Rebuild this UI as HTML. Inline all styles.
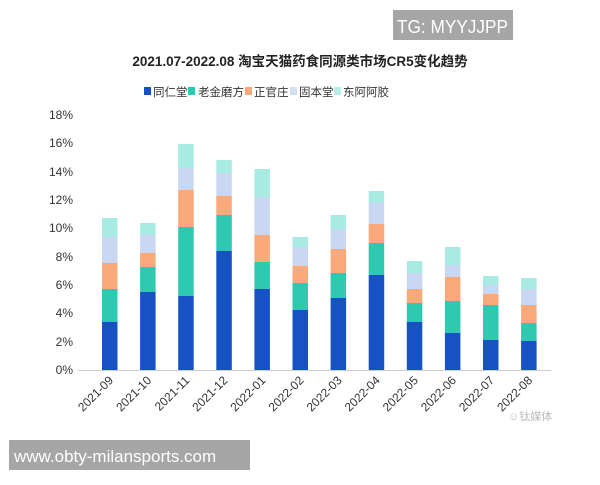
<!DOCTYPE html>
<html><head><meta charset="utf-8"><style>
body{margin:0;width:600px;height:480px;background:#fff;overflow:hidden;font-family:"Liberation Sans","Noto Sans CJK SC",sans-serif}
</style></head><body>
<svg width="600" height="480" xmlns="http://www.w3.org/2000/svg" font-family="Liberation Sans, Noto Sans CJK SC, sans-serif">
<rect x="393" y="10" width="120" height="30" fill="#a6a6a6"/>
<text x="397" y="33" font-size="18" fill="#fff" textLength="111" lengthAdjust="spacingAndGlyphs">TG: MYYJJPP</text>
<text x="300" y="66" font-size="13.5" font-weight="bold" text-anchor="middle" fill="#222">2021.07-2022.08 淘宝天猫药食同源类市场CR5变化趋势</text>
<g font-size="11.5" fill="#333">
<rect x="144" y="87" width="7" height="8" fill="#1652c4"/><text x="153" y="96">同仁堂</text>
<rect x="188" y="87" width="7" height="8" fill="#2ec9b0"/><text x="198" y="96">老金磨方</text>
<rect x="245" y="87" width="7" height="8" fill="#f9a97a"/><text x="254" y="96">正官庄</text>
<rect x="290" y="87" width="7" height="8" fill="#d5dff2"/><text x="299" y="96">固本堂</text>
<rect x="334" y="87" width="7" height="8" fill="#b5efe6"/><text x="343" y="96">东阿阿胶</text>
</g>
<g font-size="12" fill="#333" text-anchor="end">
<text x="73" y="374">0%</text><text x="73" y="346">2%</text><text x="73" y="317">4%</text><text x="73" y="289">6%</text><text x="73" y="261">8%</text><text x="73" y="232">10%</text><text x="73" y="204">12%</text><text x="73" y="176">14%</text><text x="73" y="147">16%</text><text x="73" y="119">18%</text>
</g>
<line x1="78" y1="370.5" x2="551" y2="370.5" stroke="#ccc"/>
<g fill="#1652c4">
<rect x="102" y="322" width="15.5" height="48"/><rect x="140.1" y="292" width="15.5" height="78"/><rect x="178.2" y="296" width="15.5" height="74"/><rect x="216.3" y="251" width="15.5" height="119"/><rect x="254.4" y="289" width="15.5" height="81"/><rect x="292.5" y="310" width="15.5" height="60"/><rect x="330.6" y="298" width="15.5" height="72"/><rect x="368.7" y="275" width="15.5" height="95"/><rect x="406.8" y="322" width="15.5" height="48"/><rect x="444.9" y="333" width="15.5" height="37"/><rect x="483" y="340" width="15.5" height="30"/><rect x="521.1" y="341" width="15.5" height="29"/>
</g>
<g fill="#2ec9b0">
<rect x="102" y="289" width="15.5" height="33"/><rect x="140.1" y="267" width="15.5" height="25"/><rect x="178.2" y="227" width="15.5" height="69"/><rect x="216.3" y="215" width="15.5" height="36"/><rect x="254.4" y="262" width="15.5" height="27"/><rect x="292.5" y="283" width="15.5" height="27"/><rect x="330.6" y="273" width="15.5" height="25"/><rect x="368.7" y="243" width="15.5" height="32"/><rect x="406.8" y="303" width="15.5" height="19"/><rect x="444.9" y="301" width="15.5" height="32"/><rect x="483" y="305" width="15.5" height="35"/><rect x="521.1" y="323" width="15.5" height="18"/>
</g>
<g fill="#f9a97a">
<rect x="102" y="263" width="15.5" height="26"/><rect x="140.1" y="253" width="15.5" height="14"/><rect x="178.2" y="190" width="15.5" height="37"/><rect x="216.3" y="196" width="15.5" height="19"/><rect x="254.4" y="235" width="15.5" height="27"/><rect x="292.5" y="266" width="15.5" height="17"/><rect x="330.6" y="249" width="15.5" height="24"/><rect x="368.7" y="224" width="15.5" height="19"/><rect x="406.8" y="289" width="15.5" height="14"/><rect x="444.9" y="277" width="15.5" height="24"/><rect x="483" y="294" width="15.5" height="11"/><rect x="521.1" y="305" width="15.5" height="18"/>
</g>
<g fill="#c9d7f3">
<rect x="102" y="237" width="15.5" height="26"/><rect x="140.1" y="235" width="15.5" height="18"/><rect x="178.2" y="168" width="15.5" height="22"/><rect x="216.3" y="173" width="15.5" height="23"/><rect x="254.4" y="197" width="15.5" height="38"/><rect x="292.5" y="247" width="15.5" height="19"/><rect x="330.6" y="229" width="15.5" height="20"/><rect x="368.7" y="203" width="15.5" height="21"/><rect x="406.8" y="273" width="15.5" height="16"/><rect x="444.9" y="265" width="15.5" height="12"/><rect x="483" y="285" width="15.5" height="9"/><rect x="521.1" y="289" width="15.5" height="16"/>
</g>
<g fill="#a8ebe2">
<rect x="102" y="218" width="15.5" height="19"/><rect x="140.1" y="223" width="15.5" height="12"/><rect x="178.2" y="144" width="15.5" height="24"/><rect x="216.3" y="160" width="15.5" height="13"/><rect x="254.4" y="169" width="15.5" height="28"/><rect x="292.5" y="237" width="15.5" height="10"/><rect x="330.6" y="215" width="15.5" height="14"/><rect x="368.7" y="191" width="15.5" height="12"/><rect x="406.8" y="261" width="15.5" height="12"/><rect x="444.9" y="247" width="15.5" height="18"/><rect x="483" y="276" width="15.5" height="9"/><rect x="521.1" y="278" width="15.5" height="11"/>
</g>
<g font-size="12" fill="#333" text-anchor="end">
<text x="114" y="381" transform="rotate(-45 114 381)">2021-09</text>
<text x="152.1" y="381" transform="rotate(-45 152.1 381)">2021-10</text>
<text x="190.2" y="381" transform="rotate(-45 190.2 381)">2021-11</text>
<text x="228.3" y="381" transform="rotate(-45 228.3 381)">2021-12</text>
<text x="266.4" y="381" transform="rotate(-45 266.4 381)">2022-01</text>
<text x="304.5" y="381" transform="rotate(-45 304.5 381)">2022-02</text>
<text x="342.6" y="381" transform="rotate(-45 342.6 381)">2022-03</text>
<text x="380.7" y="381" transform="rotate(-45 380.7 381)">2022-04</text>
<text x="418.8" y="381" transform="rotate(-45 418.8 381)">2022-05</text>
<text x="456.9" y="381" transform="rotate(-45 456.9 381)">2022-06</text>
<text x="495" y="381" transform="rotate(-45 495 381)">2022-07</text>
<text x="533.1" y="381" transform="rotate(-45 533.1 381)">2022-08</text>
</g>
<text x="508" y="420" font-size="11" fill="#bbb">☺钛媒体</text>
<rect x="9" y="440" width="241" height="30" fill="#a6a6a6"/>
<text x="14" y="462" font-size="17" fill="#fff">www.obty-milansports.com</text>
</svg>
</body></html>
